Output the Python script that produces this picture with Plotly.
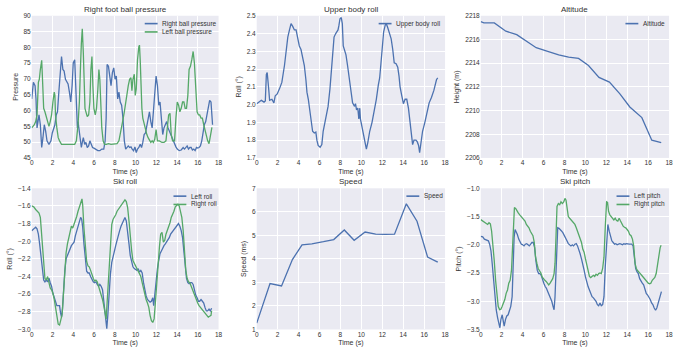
import plotly.graph_objects as go

# ---------------- data ----------------
rbp_t = [0.00, 0.16, 0.32, 0.41, 0.51, 0.58, 0.70, 0.83, 0.96, 1.08,
         1.21, 1.34, 1.47, 1.66, 1.85, 1.98, 2.10, 2.23, 2.36, 2.48,
         2.61, 2.74, 2.87, 3.00, 3.12, 3.25, 3.38, 3.50, 3.63, 3.76,
         3.89, 4.00, 4.14, 4.24, 4.33, 4.40, 4.46, 4.56, 4.65, 4.78,
         4.90, 4.97, 5.10, 5.22, 5.35, 5.48, 5.60, 5.73, 5.86, 5.99,
         6.18, 6.37, 6.56, 6.75, 6.94, 7.07, 7.17, 7.26, 7.39, 7.52,
         7.64, 7.77, 7.90, 8.03, 8.15, 8.28, 8.40, 8.53, 8.66, 8.79,
         8.92, 9.05, 9.17, 9.30, 9.43, 9.56, 9.68, 9.81, 9.94, 10.07,
         10.19, 10.32, 10.45, 10.58, 10.70, 10.83, 10.96, 11.09, 11.21, 11.34,
         11.47, 11.60, 11.72, 11.85, 11.98, 12.11, 12.24, 12.36, 12.49, 12.62,
         12.74, 12.87, 13.00, 13.13, 13.25, 13.38, 13.51, 13.64, 13.76, 13.89,
         14.02, 14.21, 14.40, 14.59, 14.72, 14.85, 14.97, 15.10, 15.23, 15.36,
         15.48, 15.61, 15.74, 15.87, 15.99, 16.12, 16.25, 16.38, 16.50, 16.63,
         16.76, 16.88, 17.01, 17.14, 17.27, 17.36, 17.42]
right_ball_pressure = [63.7, 68.9, 67.9, 63.7, 54.5, 56.5, 58.6, 55.5, 48.3, 51.4,
                       55.5, 53.5, 50.4, 49.3, 50.4, 52.9, 54.0, 55.5, 58.6, 59.6,
                       65.8, 73.0, 77.1, 73.0, 72.5, 69.9, 68.9, 68.4, 65.8, 62.7,
                       67.9, 75.1, 76.1, 66.8, 59.6, 54.5, 56.5, 53.5, 50.4, 48.3,
                       50.4, 51.4, 49.3, 49.9, 48.3, 48.8, 50.4, 49.3, 48.3, 48.1,
                       47.8, 47.3, 47.3, 47.8, 47.8, 50.4, 57.6, 74.6, 74.0, 71.5,
                       67.9, 72.0, 73.5, 69.9, 70.9, 63.7, 65.8, 62.7, 61.7, 57.6,
                       50.4, 47.8, 48.3, 48.8, 48.3, 48.5, 47.8, 47.3, 48.5, 46.7,
                       47.8, 48.3, 49.3, 48.3, 49.9, 52.4, 52.9, 55.5, 57.6, 59.6,
                       56.5, 54.5, 59.6, 66.8, 70.9, 67.9, 61.7, 62.7, 56.5, 52.4,
                       54.5, 55.5, 56.5, 54.5, 53.5, 52.4, 51.4, 50.4, 49.3, 48.5,
                       47.8, 47.3, 47.5, 48.3, 47.8, 48.3, 48.8, 47.8, 48.3, 48.3,
                       47.5, 47.8, 47.3, 48.3, 48.1, 48.3, 48.8, 50.4, 53.5, 55.5,
                       56.5, 58.6, 60.6, 63.2, 62.7, 59.1, 55.5]

lbp_t = [0.00, 0.13, 0.25, 0.38, 0.51, 0.64, 0.73, 0.83, 0.96, 1.05,
         1.15, 1.27, 1.40, 1.53, 1.66, 1.78, 1.91, 2.04, 2.17, 2.23,
         2.29, 2.42, 2.55, 2.68, 2.87, 3.19, 3.50, 3.82, 4.14, 4.30,
         4.46, 4.59, 4.65, 4.71, 4.78, 4.87, 4.97, 5.03, 5.13, 5.22,
         5.35, 5.48, 5.60, 5.70, 5.80, 5.89, 5.99, 6.12, 6.24, 6.37,
         6.47, 6.56, 6.66, 6.75, 6.88, 7.01, 7.20, 7.39, 7.64, 7.96,
         8.22, 8.40, 8.53, 8.66, 8.79, 8.92, 9.05, 9.17, 9.30, 9.43,
         9.56, 9.65, 9.75, 9.88, 9.97, 10.07, 10.19, 10.32, 10.38, 10.45,
         10.51, 10.61, 10.70, 10.83, 10.96, 11.09, 11.21, 11.34, 11.47, 11.60,
         11.72, 11.85, 11.98, 12.11, 12.30, 12.55, 12.74, 12.93, 13.06, 13.19,
         13.32, 13.44, 13.57, 13.76, 13.89, 14.02, 14.15, 14.27, 14.40, 14.53,
         14.66, 14.78, 14.91, 15.04, 15.16, 15.29, 15.42, 15.55, 15.67, 15.80,
         15.93, 16.06, 16.18, 16.31, 16.44, 16.57, 16.69, 16.82, 16.95, 17.08,
         17.17, 17.27, 17.36]
left_ball_pressure = [54.5, 55.0, 55.5, 56.5, 58.6, 68.9, 69.9, 73.0, 75.9, 68.9,
                      60.7, 59.6, 58.1, 56.5, 55.0, 56.5, 58.6, 62.7, 65.8, 64.8,
                      58.6, 54.5, 51.4, 50.4, 49.3, 49.3, 49.3, 49.1, 49.3, 50.4,
                      55.5, 62.7, 73.0, 75.1, 81.2, 85.9, 78.2, 67.9, 60.7, 59.6,
                      58.1, 58.6, 62.7, 73.0, 77.1, 67.9, 60.7, 58.6, 60.7, 66.8,
                      73.0, 69.9, 62.7, 54.5, 50.4, 49.3, 49.3, 49.5, 49.3, 49.3,
                      49.5, 50.4, 52.4, 54.5, 57.1, 59.6, 62.7, 64.8, 67.9, 69.9,
                      70.4, 66.3, 69.9, 71.5, 64.8, 66.8, 76.1, 80.2, 80.7, 76.1,
                      66.8, 60.7, 57.6, 55.5, 53.5, 52.4, 51.4, 50.4, 49.9, 50.4,
                      49.9, 50.9, 54.0, 50.4, 50.4, 49.9, 49.9, 50.4, 54.5, 58.6,
                      59.1, 52.4, 50.4, 50.4, 57.6, 62.7, 61.7, 59.6, 60.7, 62.7,
                      62.7, 60.7, 60.7, 64.8, 73.0, 74.0, 76.1, 78.7, 75.1, 66.8,
                      59.6, 58.6, 58.6, 57.6, 57.6, 55.5, 53.5, 52.4, 50.4, 49.5,
                      51.4, 53.5, 54.7]

ubr_t = [0.00, 0.19, 0.44, 0.70, 0.82, 0.92, 1.00, 1.14, 1.23, 1.45,
         1.64, 1.77, 1.96, 2.18, 2.40, 2.65, 2.81, 2.97, 3.13, 3.28,
         3.44, 3.60, 3.76, 3.92, 4.07, 4.23, 4.39, 4.55, 4.70, 4.80,
         4.93, 5.05, 5.18, 5.34, 5.50, 5.65, 5.75, 5.87, 6.06, 6.22,
         6.35, 6.50, 6.66, 6.82, 7.00, 7.14, 7.26, 7.39, 7.55, 7.64,
         7.77, 7.86, 7.96, 8.08, 8.18, 8.27, 8.40, 8.53, 8.68, 8.84,
         8.97, 9.16, 9.35, 9.44, 9.54, 9.66, 9.76, 9.85, 9.91, 10.07,
         10.23, 10.39, 10.48, 10.61, 10.80, 11.02, 11.24, 11.43, 11.62, 11.75,
         11.87, 12.00, 12.13, 12.28, 12.38, 12.54, 12.70, 12.85, 13.00, 13.14,
         13.32, 13.48, 13.60, 13.70, 13.86, 14.02, 14.18, 14.34, 14.50, 14.65,
         14.80, 14.90, 15.03, 15.22, 15.35, 15.47, 15.57, 15.70, 15.85, 16.07,
         16.30, 16.48, 16.70, 16.93, 17.18, 17.30]
upper_body_roll = [2.005, 2.014, 2.024, 2.014, 2.02, 2.17, 2.18, 2.09, 2.024, 2.03,
                   2.01, 2.05, 2.06, 2.09, 2.125, 2.22, 2.31, 2.38, 2.42, 2.456,
                   2.44, 2.42, 2.42, 2.37, 2.33, 2.31, 2.26, 2.22, 2.14, 2.07,
                   2.03, 1.98, 1.90, 1.85, 1.84, 1.845, 1.80, 1.77, 1.76, 1.775,
                   1.85, 1.90, 1.93, 1.99, 2.09, 2.20, 2.33, 2.38, 2.40, 2.41,
                   2.42, 2.447, 2.483, 2.49, 2.456, 2.33, 2.30, 2.28, 2.22, 2.14,
                   2.07, 2.01, 1.99, 2.005, 1.97, 1.98, 1.92, 1.98, 1.92, 1.87,
                   1.81, 1.757, 1.75, 1.785, 1.85, 1.90, 1.96, 2.03, 2.11, 2.15,
                   2.23, 2.35, 2.41, 2.447, 2.456, 2.43, 2.40, 2.37, 2.31, 2.235,
                   2.23, 2.21, 2.16, 2.10, 2.05, 2.005, 2.03, 2.03, 1.98, 1.90,
                   1.84, 1.775, 1.80, 1.80, 1.79, 1.77, 1.73, 1.775, 1.85, 1.90,
                   1.96, 2.01, 2.04, 2.08, 2.14, 2.15]

alt_t = [0.00, 0.30, 1.30, 2.40, 3.44, 4.45, 5.30, 6.40, 7.45, 8.40,
         9.35, 10.30, 11.30, 12.30, 13.30, 14.25, 15.40, 16.35, 17.25]
altitude = [2217.5, 2217.4, 2217.4, 2216.7, 2216.4, 2215.8, 2215.3, 2215.0, 2214.7, 2214.5,
            2214.4, 2213.8, 2212.8, 2212.4, 2211.4, 2210.3, 2209.4, 2207.5, 2207.3]

lroll_t = [0.00, 0.19, 0.38, 0.51, 0.64, 0.76, 0.89, 1.02, 1.15, 1.27,
           1.40, 1.53, 1.66, 1.78, 1.91, 2.04, 2.17, 2.29, 2.42, 2.55,
           2.68, 2.77, 2.87, 2.96, 3.06, 3.19, 3.31, 3.44, 3.57, 3.70,
           3.82, 3.95, 4.08, 4.20, 4.33, 4.46, 4.59, 4.71, 4.81, 4.91,
           5.03, 5.16, 5.29, 5.42, 5.54, 5.67, 5.80, 5.93, 6.05, 6.18,
           6.31, 6.44, 6.56, 6.69, 6.82, 6.94, 7.07, 7.17, 7.23, 7.33,
           7.45, 7.58, 7.71, 7.84, 7.96, 8.09, 8.22, 8.34, 8.47, 8.60,
           8.73, 8.86, 8.98, 9.11, 9.24, 9.37, 9.49, 9.62, 9.75, 9.88,
           10.00, 10.13, 10.26, 10.38, 10.51, 10.64, 10.77, 10.89, 11.02, 11.15,
           11.28, 11.40, 11.53, 11.66, 11.75, 11.85, 11.98, 12.11, 12.23, 12.36,
           12.49, 12.62, 12.74, 12.87, 13.00, 13.13, 13.25, 13.38, 13.51, 13.63,
           13.76, 13.89, 14.02, 14.14, 14.27, 14.40, 14.53, 14.65, 14.78, 14.91,
           15.04, 15.16, 15.29, 15.42, 15.55, 15.67, 15.80, 15.93, 16.06, 16.18,
           16.31, 16.44, 16.57, 16.69, 16.82, 16.95, 17.08, 17.20, 17.33]
left_roll = [-1.88, -1.86, -1.84, -1.86, -1.92, -2.03, -2.18, -2.33, -2.44, -2.46,
             -2.44, -2.46, -2.42, -2.47, -2.51, -2.59, -2.64, -2.70, -2.73, -2.73,
             -2.73, -2.81, -2.86, -2.77, -2.55, -2.33, -2.20, -2.16, -2.13, -2.09,
             -2.05, -2.03, -2.01, -1.94, -1.88, -1.83, -1.77, -1.73, -1.75, -1.84,
             -2.03, -2.21, -2.34, -2.36, -2.36, -2.40, -2.44, -2.46, -2.47, -2.46,
             -2.49, -2.51, -2.49, -2.51, -2.55, -2.66, -2.81, -2.92, -2.99, -2.84,
             -2.59, -2.37, -2.24, -2.16, -2.11, -2.05, -1.99, -1.92, -1.88, -1.83,
             -1.79, -1.75, -1.73, -1.77, -1.88, -2.03, -2.16, -2.23, -2.29, -2.31,
             -2.32, -2.33, -2.31, -2.35, -2.33, -2.36, -2.47, -2.55, -2.62, -2.66,
             -2.68, -2.69, -2.68, -2.64, -2.73, -2.59, -2.44, -2.31, -2.22, -2.14,
             -2.11, -2.07, -2.05, -2.03, -2.01, -1.99, -1.96, -1.92, -1.90, -1.88,
             -1.86, -1.84, -1.81, -1.80, -1.83, -1.88, -1.96, -2.11, -2.29, -2.42,
             -2.47, -2.48, -2.47, -2.47, -2.49, -2.55, -2.61, -2.64, -2.68, -2.68,
             -2.66, -2.68, -2.70, -2.75, -2.79, -2.79, -2.77, -2.79, -2.76]

rroll_t = [0.00, 0.19, 0.38, 0.57, 0.70, 0.83, 0.92, 1.02, 1.15, 1.27,
           1.40, 1.53, 1.66, 1.78, 1.91, 2.04, 2.17, 2.29, 2.42, 2.55,
           2.68, 2.80, 2.93, 3.06, 3.19, 3.31, 3.44, 3.57, 3.70, 3.82,
           3.95, 4.08, 4.20, 4.33, 4.46, 4.59, 4.71, 4.84, 4.91, 5.03,
           5.16, 5.29, 5.42, 5.54, 5.67, 5.80, 5.93, 6.05, 6.18, 6.31,
           6.44, 6.56, 6.69, 6.82, 6.94, 7.07, 7.17, 7.26, 7.36, 7.45,
           7.58, 7.71, 7.84, 7.96, 8.09, 8.22, 8.34, 8.47, 8.60, 8.73,
           8.86, 8.98, 9.11, 9.24, 9.37, 9.49, 9.62, 9.75, 9.88, 10.00,
           10.13, 10.26, 10.38, 10.51, 10.64, 10.77, 10.89, 11.02, 11.15, 11.28,
           11.40, 11.53, 11.66, 11.79, 11.91, 12.04, 12.17, 12.30, 12.42, 12.55,
           12.68, 12.81, 12.93, 13.06, 13.19, 13.32, 13.44, 13.57, 13.70, 13.83,
           13.95, 14.08, 14.21, 14.34, 14.46, 14.59, 14.72, 14.84, 14.97, 15.10,
           15.23, 15.36, 15.48, 15.61, 15.74, 15.86, 15.99, 16.12, 16.25, 16.37,
           16.50, 16.63, 16.75, 16.88, 17.01, 17.14, 17.27, 17.33]
right_roll = [-1.60, -1.61, -1.64, -1.66, -1.68, -1.73, -1.88, -2.10, -2.33, -2.42,
              -2.44, -2.40, -2.47, -2.53, -2.55, -2.59, -2.66, -2.75, -2.84, -2.94,
              -2.95, -2.90, -2.83, -2.59, -2.26, -2.13, -2.03, -1.96, -1.88, -1.83,
              -1.85, -1.81, -1.77, -1.72, -1.66, -1.60, -1.57, -1.52, -1.59, -1.85,
              -2.10, -2.23, -2.28, -2.29, -2.33, -2.39, -2.42, -2.45, -2.44, -2.46,
              -2.51, -2.55, -2.59, -2.66, -2.73, -2.83, -2.88, -2.70, -2.47, -2.29,
              -2.01, -1.81, -1.75, -1.73, -1.70, -1.66, -1.64, -1.62, -1.60, -1.58,
              -1.55, -1.53, -1.55, -1.62, -1.77, -1.96, -2.10, -2.22, -2.25, -2.27,
              -2.31, -2.33, -2.36, -2.40, -2.47, -2.55, -2.60, -2.66, -2.70, -2.75,
              -2.84, -2.90, -2.92, -2.88, -2.70, -2.47, -2.22, -2.07, -1.92, -1.90,
              -2.01, -1.99, -1.92, -1.88, -1.85, -1.79, -1.73, -1.70, -1.66, -1.61,
              -1.59, -1.58, -1.60, -1.66, -1.73, -1.88, -2.10, -2.33, -2.42, -2.46,
              -2.47, -2.51, -2.55, -2.59, -2.64, -2.68, -2.70, -2.73, -2.75, -2.77,
              -2.79, -2.81, -2.83, -2.84, -2.86, -2.85, -2.84, -2.79]

gps_t = [0.00, 1.27, 2.37, 3.41, 4.33, 5.27, 6.38, 7.36, 8.37, 9.31,
         10.36, 11.37, 12.30, 13.17, 14.30, 15.32, 16.33, 17.30]
speed = [1.27, 2.95, 2.85, 3.97, 4.60, 4.64, 4.73, 4.82, 5.23, 4.79,
         5.14, 5.05, 5.04, 5.05, 6.34, 5.60, 4.08, 3.86]

lpitch_t = [0.00, 0.19, 0.35, 0.54, 0.73, 0.85, 0.98, 1.10, 1.23, 1.36,
            1.48, 1.61, 1.74, 1.83, 1.93, 2.05, 2.18, 2.24, 2.37, 2.49,
            2.62, 2.75, 2.87, 3.00, 3.09, 3.19, 3.28, 3.38, 3.50, 3.63,
            3.76, 3.88, 4.01, 4.14, 4.26, 4.39, 4.52, 4.64, 4.77, 4.89,
            5.02, 5.15, 5.27, 5.40, 5.53, 5.65, 5.78, 5.91, 6.03, 6.16,
            6.28, 6.41, 6.54, 6.66, 6.79, 6.91, 7.01, 7.10, 7.20, 7.29,
            7.36, 7.48, 7.61, 7.74, 7.86, 7.99, 8.12, 8.24, 8.37, 8.50,
            8.62, 8.75, 8.87, 9.00, 9.13, 9.25, 9.38, 9.50, 9.63, 9.76,
            9.88, 10.01, 10.14, 10.26, 10.39, 10.51, 10.64, 10.77, 10.89, 11.02,
            11.15, 11.27, 11.40, 11.52, 11.65, 11.78, 11.90, 12.03, 12.15, 12.28,
            12.41, 12.53, 12.66, 12.79, 12.91, 13.04, 13.17, 13.29, 13.42, 13.55,
            13.67, 13.80, 13.93, 14.05, 14.18, 14.30, 14.43, 14.56, 14.68, 14.81,
            14.94, 15.06, 15.19, 15.31, 15.44, 15.57, 15.69, 15.82, 15.95, 16.07,
            16.20, 16.33, 16.45, 16.58, 16.71, 16.83, 16.96, 17.08, 17.21, 17.27]
left_pitch = [-1.85, -1.86, -1.90, -1.92, -1.93, -1.99, -2.11, -2.34, -2.63, -2.92,
              -3.15, -3.29, -3.41, -3.47, -3.32, -3.24, -3.38, -3.44, -3.32, -3.26,
              -3.24, -3.18, -3.09, -2.92, -2.40, -1.87, -1.73, -1.76, -1.82, -1.90,
              -1.96, -1.99, -2.00, -2.02, -1.99, -1.98, -2.00, -2.02, -1.99, -1.96,
              -1.96, -2.05, -2.28, -2.45, -2.51, -2.51, -2.54, -2.63, -2.68, -2.74,
              -2.77, -2.83, -2.89, -2.92, -3.00, -3.09, -3.15, -2.92, -2.40, -1.82,
              -1.70, -1.71, -1.73, -1.76, -1.79, -1.83, -1.87, -1.93, -1.98, -2.00,
              -2.02, -2.00, -2.02, -1.99, -1.98, -2.02, -2.08, -2.16, -2.25, -2.34,
              -2.45, -2.57, -2.68, -2.74, -2.80, -2.86, -2.92, -2.94, -2.97, -3.00,
              -3.06, -3.08, -3.03, -3.08, -3.06, -2.92, -2.40, -1.87, -1.64, -1.76,
              -1.87, -1.93, -1.96, -1.99, -1.98, -2.00, -1.99, -1.98, -1.99, -2.00,
              -1.98, -1.99, -1.98, -1.99, -1.99, -1.99, -1.99, -2.02, -2.25, -2.42,
              -2.48, -2.51, -2.60, -2.65, -2.68, -2.71, -2.80, -2.86, -2.89, -2.92,
              -2.97, -3.03, -3.06, -3.12, -3.16, -3.12, -3.03, -2.94, -2.83, -2.83]

rpitch_t = [0.00, 0.19, 0.35, 0.54, 0.66, 0.79, 0.92, 1.04, 1.17, 1.29,
            1.42, 1.55, 1.67, 1.80, 1.93, 2.05, 2.18, 2.30, 2.43, 2.56,
            2.68, 2.81, 2.94, 3.03, 3.13, 3.22, 3.35, 3.47, 3.60, 3.73,
            3.85, 3.98, 4.11, 4.23, 4.36, 4.48, 4.61, 4.74, 4.86, 4.99,
            5.12, 5.24, 5.37, 5.49, 5.62, 5.75, 5.87, 6.00, 6.13, 6.25,
            6.38, 6.50, 6.63, 6.76, 6.88, 7.01, 7.10, 7.20, 7.29, 7.42,
            7.55, 7.67, 7.80, 7.93, 8.05, 8.15, 8.24, 8.37, 8.50, 8.62,
            8.75, 8.87, 9.00, 9.13, 9.25, 9.38, 9.50, 9.63, 9.76, 9.88,
            10.01, 10.14, 10.26, 10.39, 10.51, 10.64, 10.77, 10.89, 11.02, 11.15,
            11.27, 11.40, 11.52, 11.65, 11.78, 11.90, 12.03, 12.12, 12.22, 12.34,
            12.47, 12.60, 12.72, 12.85, 12.98, 13.10, 13.23, 13.36, 13.48, 13.61,
            13.74, 13.86, 13.99, 14.12, 14.24, 14.37, 14.50, 14.62, 14.75, 14.87,
            15.00, 15.13, 15.25, 15.38, 15.51, 15.63, 15.76, 15.88, 16.01, 16.14,
            16.26, 16.39, 16.52, 16.64, 16.77, 16.90, 17.02, 17.15, 17.24]
right_pitch = [-1.555, -1.58, -1.61, -1.63, -1.64, -1.61, -1.63, -1.76, -1.99, -2.28,
               -2.63, -2.92, -3.09, -3.15, -3.14, -3.09, -3.03, -2.97, -2.86, -2.80,
               -2.68, -2.63, -2.45, -1.99, -1.52, -1.34, -1.36, -1.41, -1.44, -1.47,
               -1.50, -1.53, -1.56, -1.58, -1.64, -1.67, -1.70, -1.76, -1.80, -1.84,
               -1.96, -2.22, -2.33, -2.42, -2.46, -2.50, -2.57, -2.61, -2.63, -2.65,
               -2.68, -2.71, -2.68, -2.63, -2.60, -2.51, -2.33, -1.82, -1.32, -1.27,
               -1.29, -1.24, -1.27, -1.24, -1.18, -1.21, -1.35, -1.50, -1.53, -1.56,
               -1.58, -1.61, -1.64, -1.70, -1.76, -1.82, -1.86, -1.96, -2.08, -2.13,
               -2.25, -2.37, -2.48, -2.56, -2.58, -2.56, -2.54, -2.56, -2.52, -2.54,
               -2.51, -2.50, -2.51, -2.42, -2.22, -1.70, -1.24, -1.25, -1.41, -1.47,
               -1.50, -1.53, -1.56, -1.53, -1.57, -1.58, -1.53, -1.58, -1.64, -1.67,
               -1.69, -1.70, -1.73, -1.76, -1.82, -1.84, -1.90, -2.02, -2.33, -2.42,
               -2.46, -2.48, -2.51, -2.54, -2.57, -2.60, -2.63, -2.65, -2.68, -2.69,
               -2.68, -2.63, -2.60, -2.58, -2.51, -2.33, -2.16, -2.05, -2.01]

x_ticks = [0, 2, 4, 6, 8, 10, 12, 14, 16, 18]

# ---------------- styling ----------------
BLUE = "#4C72B0"
GREEN = "#55A868"
BG = "#EAEAF2"
TXT = "#333333"
FONT = "Liberation Sans, Arial, DejaVu Sans, sans-serif"
W, H = 680, 356

cols = [(30, 218.5), (257, 447), (483, 673)]   # plot-area pixel extents
rows = [(12, 157), (188, 332)]

panels = [
    dict(title="Right foot ball pressure", ylabel="Pressure", yr=[45, 90], dt=5, fmt="d",
         series=[(rbp_t, right_ball_pressure, "Right ball pressure", BLUE),
                 (lbp_t, left_ball_pressure, "Left ball pressure", GREEN)], leg=74.5),
    dict(title="Upper body roll", ylabel="Roll (°)", yr=[1.7, 2.5], dt=0.1, fmt=".1f",
         series=[(ubr_t, upper_body_roll, "Upper body roll", BLUE)], leg=67),
    dict(title="Altitude", ylabel="Height (m)", yr=[2206, 2218], dt=2, fmt="d",
         series=[(alt_t, altitude, "Altitude", BLUE)], leg=44),
    dict(title="Ski roll", ylabel="Roll (°)", yr=[-3.0, -1.4], dt=0.2, fmt=".1f",
         series=[(lroll_t, left_roll, "Left roll", BLUE),
                 (rroll_t, right_roll, "Right roll", GREEN)], leg=45.5),
    dict(title="Speed", ylabel="Speed (ms)", yr=[1, 7], dt=1, fmt="d",
         series=[(gps_t, speed, "Speed", BLUE)], leg=39),
    dict(title="Ski pitch", ylabel="Pitch (°)", yr=[-3.5, -1.0], dt=0.5, fmt=".1f",
         series=[(lpitch_t, left_pitch, "Left pitch", BLUE),
                 (rpitch_t, right_pitch, "Right pitch", GREEN)], leg=53),
]

fig = go.Figure()
annotations = []
shapes = []
layout = {}

for i, p in enumerate(panels):
    n = i + 1
    c = cols[i % 3]
    r = rows[i // 3]
    xd = [c[0] / W, c[1] / W]
    yd = [1 - r[1] / H, 1 - r[0] / H]
    sfx = "" if n == 1 else str(n)
    for (tx, vy, name, col) in p["series"]:
        fig.add_trace(go.Scatter(x=tx, y=vy, mode="lines", name=name,
                                 line=dict(color=col, width=1.3),
                                 xaxis="x" + sfx, yaxis="y" + sfx, showlegend=False))
    layout["xaxis" + sfx] = dict(
        domain=xd, anchor="y" + sfx, range=[0, 18], tickvals=x_ticks,
        showgrid=True, gridcolor="white", gridwidth=1, zeroline=False, showline=False,
        ticks="", tickfont=dict(size=6.5, color=TXT, family=FONT),
        title=dict(text="Time (s)", font=dict(size=7, color=TXT, family=FONT), standoff=3),
        fixedrange=True)
    layout["yaxis" + sfx] = dict(
        domain=yd, anchor="x" + sfx, range=p["yr"], dtick=p["dt"], tick0=p["yr"][0],
        tickformat=p["fmt"], showgrid=True, gridcolor="white", gridwidth=1,
        zeroline=False, showline=False, ticks="",
        tickfont=dict(size=6.5, color=TXT, family=FONT),
        title=dict(text=p["ylabel"], font=dict(size=7, color=TXT, family=FONT), standoff=4),
        fixedrange=True)
    # subplot title
    annotations.append(dict(text=p["title"], x=(xd[0] + xd[1]) / 2, y=yd[1],
                            xref="paper", yref="paper", xanchor="center", yanchor="bottom",
                            yshift=0, showarrow=False,
                            font=dict(size=8, color=TXT, family=FONT)))
    # legend (matplotlib-style, upper right, no frame)
    lx0 = c[1] - p["leg"]
    for k, (tx, vy, name, col) in enumerate(p["series"]):
        ly = r[0] + 8 + k * 8.5
        shapes.append(dict(type="line", xref="paper", yref="paper",
                           x0=lx0 / W, x1=(lx0 + 13) / W, y0=1 - ly / H, y1=1 - ly / H,
                           line=dict(color=col, width=1.6)))
        annotations.append(dict(text=name, x=(lx0 + 15.5) / W, y=1 - ly / H,
                                xref="paper", yref="paper", xanchor="left", yanchor="middle",
                                showarrow=False,
                                font=dict(size=6.5, color=TXT, family=FONT)))

fig.update_layout(
    width=W, height=H, margin=dict(l=0, r=0, t=0, b=0),
    paper_bgcolor="white", plot_bgcolor=BG,
    font=dict(family=FONT, color=TXT),
    annotations=annotations, shapes=shapes, showlegend=False,
    **layout)

fig.write_html("out.html", config={"displayModeBar": False},
               post_script="document.body.style.margin='0';document.body.style.overflow='hidden';")
